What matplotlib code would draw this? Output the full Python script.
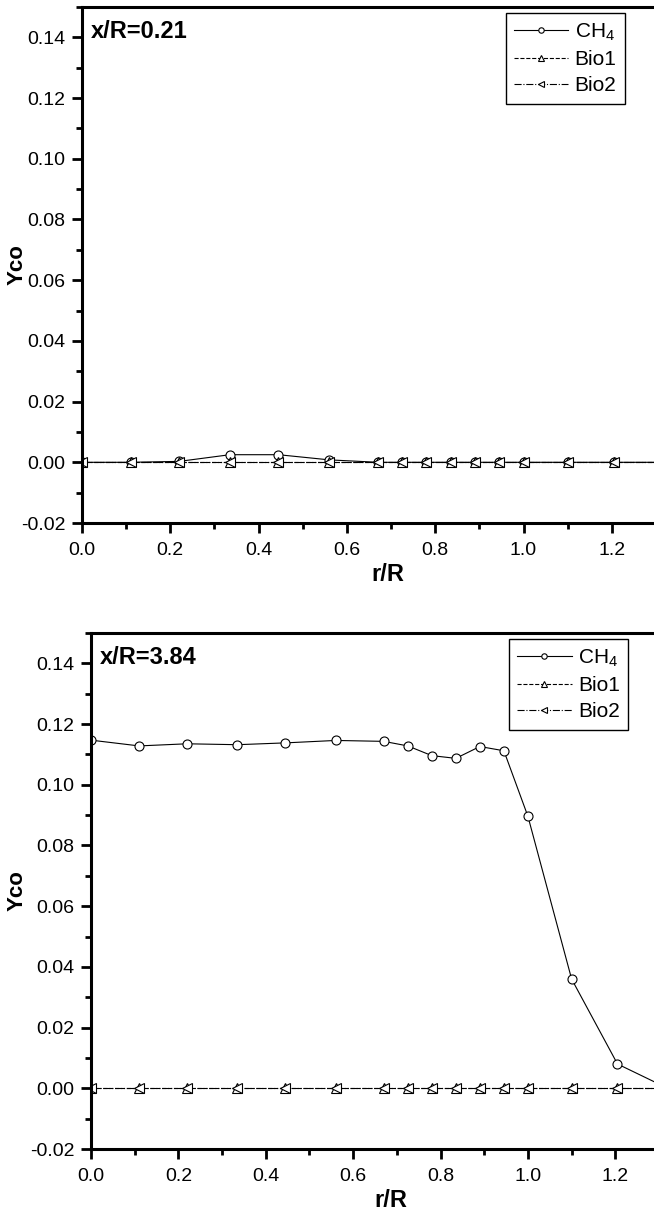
import matplotlib
matplotlib.use("Agg")
import matplotlib.pyplot as plt
from matplotlib.ticker import MultipleLocator, FormatStrFormatter

plt.rcParams['font.family'] = ['Liberation Sans', 'DejaVu Sans']
plt.rcParams['mathtext.default'] = 'regular'

# radial positions r/R (last point sits just past the visible edge)
r_pos = [0.0, 0.11, 0.22, 0.335, 0.445, 0.56, 0.67, 0.725, 0.78, 0.835,
         0.89, 0.945, 1.0, 1.1, 1.205, 1.32]

# x/R = 0.21
ch4_021 = [0.0, 0.0, 0.0003, 0.0025, 0.0025, 0.0008, 0.0, 0.0, 0.0, 0.0,
           0.0, 0.0, 0.0, 0.0, 0.0, 0.0]
bio1_021 = [0.0] * 16
bio2_021 = [0.0] * 16

# x/R = 3.84
ch4_384 = [0.1147, 0.1128, 0.1135, 0.1132, 0.1138, 0.1146, 0.1143, 0.1128,
           0.1096, 0.1087, 0.1126, 0.1112, 0.0896, 0.0360, 0.0080, 0.0]
bio1_384 = [0.0] * 16
bio2_384 = [0.0] * 16

# (title, series, axes rect in figure fraction, legend left px, ylabel x, xlabel x)
panels = [
    ("x/R=0.21", ch4_021, bio1_021, bio2_021,
     [82/654, 1 - 523/1212, 574/654, 516/1212], 506, -0.094, 0.533),
    ("x/R=3.84", ch4_384, bio1_384, bio2_384,
     [91/654, 1 - 1149/1212, 568/654, 516/1212], 509, -0.111, 0.527),
]

fig = plt.figure(figsize=(6.54, 12.12), dpi=100)

for title, ch4, bio1, bio2, rect, leg_x, ylab_x, xlab_x in panels:
    ax = fig.add_axes(rect)
    ax.plot(r_pos, ch4, '-', color='black', lw=0.8, marker='o', ms=6.5,
            mfc='white', mec='black', mew=0.8, label='CH$_4$')
    ax.plot(r_pos, bio1, '--', color='black', lw=0.8, marker='^', ms=6.5,
            mfc='white', mec='black', mew=0.8, label='Bio1')
    ax.plot(r_pos, bio2, '-.', color='black', lw=0.8, marker='<', ms=6.5,
            mfc='white', mec='black', mew=0.8, label='Bio2')

    ax.set_xlim(0, 1.3)
    ax.set_ylim(-0.02, 0.15)
    ax.xaxis.set_major_locator(MultipleLocator(0.2))
    ax.xaxis.set_minor_locator(MultipleLocator(0.1))
    ax.yaxis.set_major_locator(MultipleLocator(0.02))
    ax.yaxis.set_minor_locator(MultipleLocator(0.01))
    ax.xaxis.set_major_formatter(FormatStrFormatter('%.1f'))
    ax.yaxis.set_major_formatter(FormatStrFormatter('%.2f'))
    ax.tick_params(which='major', direction='out', length=7, width=2, labelsize=14)
    ax.tick_params(which='minor', direction='out', length=4, width=2)
    ax.tick_params(axis='x', which='major', pad=7)
    ax.tick_params(axis='y', which='major', pad=5)
    for side in ['left', 'bottom', 'top', 'right']:
        ax.spines[side].set_linewidth(2.2)

    ax.set_xlabel('r/R', fontsize=17, fontweight='bold')
    ax.xaxis.set_label_coords(xlab_x, -0.078)
    ax.set_ylabel('Yco', fontsize=16, fontweight='bold')
    ax.yaxis.set_label_coords(ylab_x, 0.5)

    ax.text(0.015, 0.975, title, transform=ax.transAxes, fontsize=17,
            fontweight='bold', va='top', ha='left')

    x0 = (leg_x - rect[0] * 654) / (rect[2] * 654)
    leg = ax.legend(loc='upper left', bbox_to_anchor=(x0, 0.988),
                    fontsize=15, markerscale=0.6, handlelength=2.6, handletextpad=0.3,
                    borderpad=0.4, labelspacing=0.35, fancybox=False, framealpha=1,
                    edgecolor='black', borderaxespad=0)
    leg.get_frame().set_linewidth(1.0)

fig.savefig('out.png', dpi=100)
